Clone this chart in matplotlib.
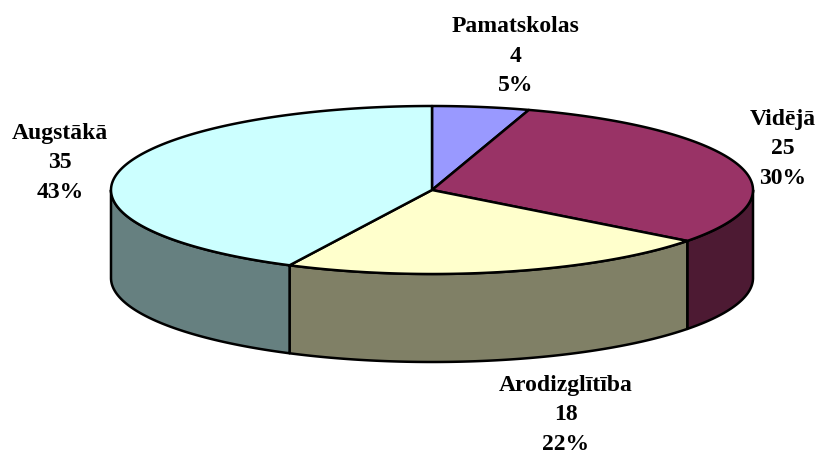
import matplotlib
matplotlib.use("Agg")
import matplotlib.pyplot as plt
import numpy as np

labels = ["Pamatskolas", "Vidējā", "Arodizglītība", "Augstākā"]
values = [4, 25, 18, 35]
percents = ["5%", "30%", "22%", "43%"]

top_colors = ["#9999FF", "#993366", "#FFFFCC", "#CCFFFF"]
side_colors = ["#4D4D80", "#4D1A33", "#808066", "#668080"]
label_pos = [(516, 56), (783, 149), (566, 415), (60, 163)]

cx, cy = 432, 190
rx, ry = 321, 84
depth = 88

plt.rcParams['font.family'] = ['Liberation Serif', 'DejaVu Serif']

fig = plt.figure(figsize=(8.19, 4.54), dpi=100)
ax = fig.add_axes([0, 0, 1, 1])
ax.set_xlim(0, 819)
ax.set_ylim(454, 0)
ax.axis("off")


def rim(a0, a1):
    # angles in degrees, clockwise from the top of the ellipse
    t = np.radians(np.linspace(a0, a1, 200))
    return cx + rx*np.sin(t), cy - ry*np.cos(t)


edges = np.concatenate([[0], np.cumsum(values)]) / sum(values) * 360

# walls first, only the front half of the disc shows one
for i in range(len(values)):
    a0, a1 = max(edges[i], 90), min(edges[i+1], 270)
    if a0 >= a1:
        continue
    x, y = rim(a0, a1)
    ax.fill(np.r_[x, x[::-1]], np.r_[y, y[::-1] + depth],
            facecolor=side_colors[i], edgecolor="black", lw=1.8, joinstyle="round")

for i in range(len(values)):
    x, y = rim(edges[i], edges[i+1])
    ax.fill(np.r_[cx, x], np.r_[cy, y],
            facecolor=top_colors[i], edgecolor="black", lw=1.8, joinstyle="round")

for i in range(len(values)):
    ax.text(label_pos[i][0], label_pos[i][1],
            f"{labels[i]}\n{values[i]}\n{percents[i]}",
            ha="center", va="center", fontsize=17, fontweight="bold",
            linespacing=1.53, color="black")

fig.savefig("out.png", dpi=100, facecolor="white")
